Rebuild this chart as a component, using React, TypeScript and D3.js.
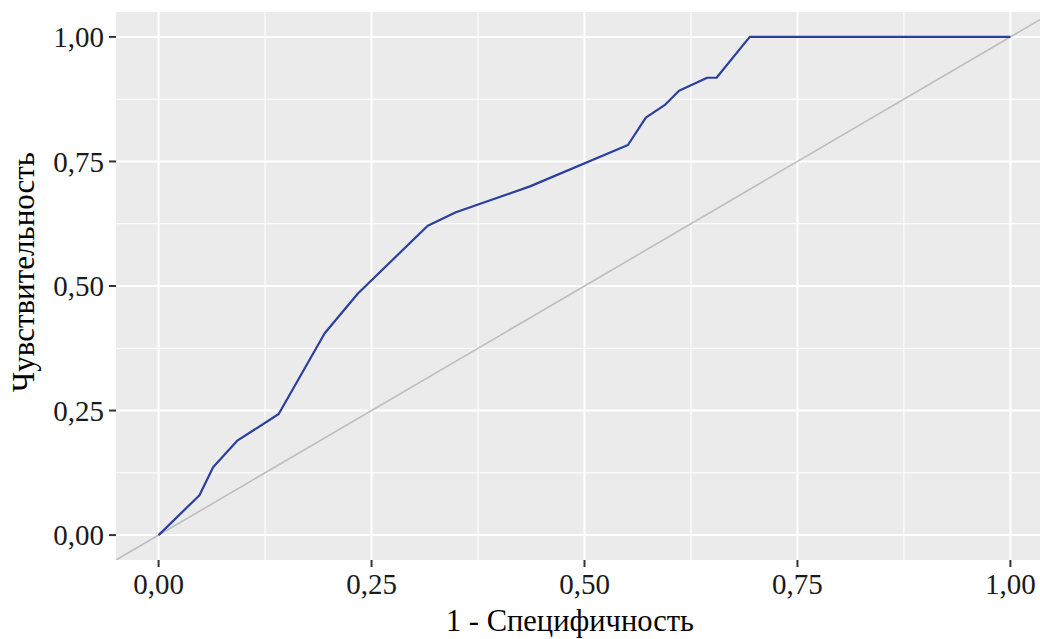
import React from "react";
import * as d3 from "d3";

// ROC curve points
const fpr = [0, 0.048, 0.064, 0.092, 0.141, 0.195, 0.234, 0.316, 0.349, 0.436, 0.551, 0.572, 0.594, 0.611, 0.644, 0.655, 0.694, 1];
const tpr = [0, 0.08, 0.136, 0.189, 0.243, 0.405, 0.485, 0.621, 0.648, 0.70, 0.783, 0.838, 0.863, 0.892, 0.918, 0.918, 1, 1];
const majorTicks = [0, 0.25, 0.5, 0.75, 1];
const minorTicks = [0.125, 0.375, 0.625, 0.875];
const xTitle = "1 - Специфичность";
const yTitle = "Чувствительность";

const W = 1040;
const H = 639;
const panel = { left: 116, top: 12, right: 1053, bottom: 560 };
const font = "'Liberation Serif', 'Times New Roman', serif";
const fmt = (v: number) => v.toFixed(2).replace(".", ",");

export default function App() {
  const x = d3.scaleLinear().domain([-0.05, 1.05]).range([panel.left, panel.right]);
  const y = d3.scaleLinear().domain([-0.05, 1.05]).range([panel.bottom, panel.top]);
  const pts: [number, number][] = fpr.map((f, i) => [f, tpr[i]]);
  const line = d3.line<[number, number]>().x(d => x(d[0])).y(d => y(d[1]));
  const diag = line([[-0.05, -0.05], [1.05, 1.05]]) || "";

  return (
    <svg width={W} height={H} style={{ position: "absolute", left: 0, top: 0, background: "#fff" }}>
      <defs>
        <clipPath id="pc">
          <rect x={panel.left} y={panel.top} width={panel.right - panel.left} height={panel.bottom - panel.top} />
        </clipPath>
      </defs>
      <rect x={panel.left} y={panel.top} width={panel.right - panel.left} height={panel.bottom - panel.top} fill="#EBEBEB" />
      <g clipPath="url(#pc)">
        {minorTicks.map(t => (
          <g key={"m" + t}>
            <line x1={x(t)} x2={x(t)} y1={panel.top} y2={panel.bottom} stroke="#fff" strokeWidth={1} />
            <line x1={panel.left} x2={panel.right} y1={y(t)} y2={y(t)} stroke="#fff" strokeWidth={1} />
          </g>
        ))}
        {majorTicks.map(t => (
          <g key={"M" + t}>
            <line x1={x(t)} x2={x(t)} y1={panel.top} y2={panel.bottom} stroke="#fff" strokeWidth={2} />
            <line x1={panel.left} x2={panel.right} y1={y(t)} y2={y(t)} stroke="#fff" strokeWidth={2} />
          </g>
        ))}
        <path d={diag} fill="none" stroke="#BEBEBE" strokeWidth={1.6} />
        <path d={line(pts) || ""} fill="none" stroke="#2A3F9E" strokeWidth={2.2} strokeLinejoin="round" />
      </g>
      {majorTicks.map(t => (
        <g key={"yt" + t}>
          <line x1={panel.left - 7} x2={panel.left} y1={y(t)} y2={y(t)} stroke="#333" strokeWidth={2} />
          <text x={panel.left - 12} y={y(t)} dy="0.35em" textAnchor="end" fontFamily={font} fontSize={29} fill="#1a1a1a">
            {fmt(t)}
          </text>
        </g>
      ))}
      {majorTicks.map(t => (
        <g key={"xt" + t}>
          <line x1={x(t)} x2={x(t)} y1={panel.bottom} y2={panel.bottom + 7} stroke="#333" strokeWidth={2} />
          <text x={x(t)} y={594} textAnchor="middle" fontFamily={font} fontSize={29} fill="#1a1a1a">
            {fmt(t)}
          </text>
        </g>
      ))}
      <text x={570} y={631} textAnchor="middle" fontFamily={font} fontSize={30.5} fill="#000">
        {xTitle}
      </text>
      <text transform="translate(34, 272) rotate(-90)" textAnchor="middle" fontFamily={font} fontSize={31} fill="#000">
        {yTitle}
      </text>
    </svg>
  );
}
